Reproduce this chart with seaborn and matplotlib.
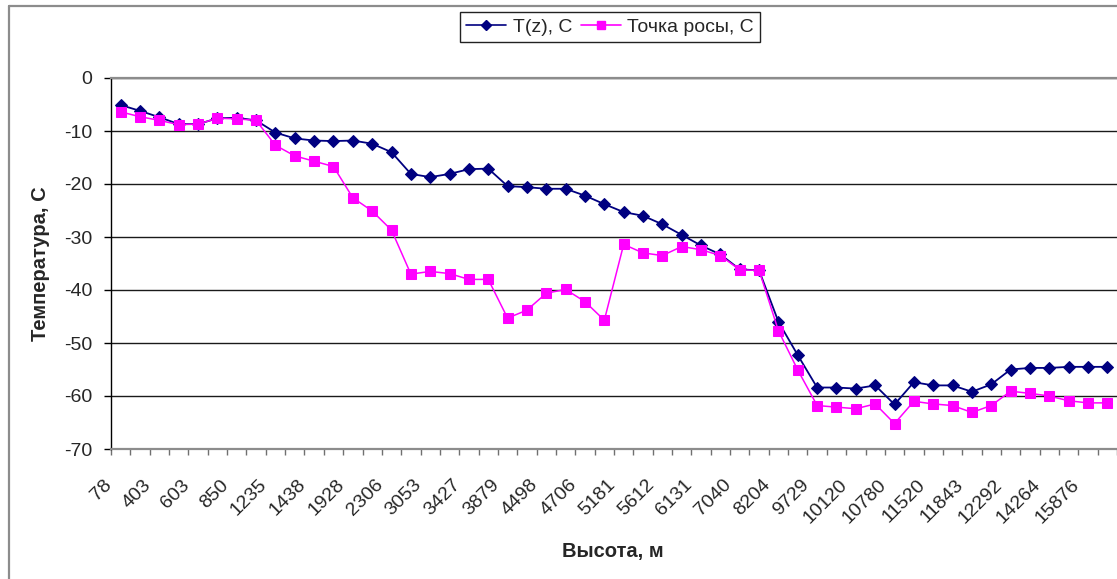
import numpy as np
import pandas as pd
import matplotlib
matplotlib.use("Agg")
import matplotlib.pyplot as plt
import matplotlib.transforms as mtransforms
from matplotlib.lines import Line2D
import seaborn as sns

# Altitude labels shown on the category axis (every second sounding level)
altitude_labels = ["78", "403", "603", "850", "1235", "1438", "1928", "2306",
                   "3053", "3427", "3879", "4498", "4706", "5181", "5612",
                   "6131", "7040", "8204", "9729", "10120", "10780", "11520",
                   "11843", "12292", "14264", "15876"]

# Air temperature T(z), C at each sounding level
temperature = [-5.1, -6.2, -7.4, -8.7, -8.7, -7.6, -7.5, -8.0, -10.3, -11.4,
               -11.8, -11.9, -11.8, -12.4, -14.0, -18.1, -18.7, -18.1, -17.2,
               -17.1, -20.4, -20.6, -20.9, -20.9, -22.2, -23.8, -25.3, -26.0,
               -27.6, -29.6, -31.6, -33.3, -36.1, -36.3, -46.0, -52.3, -58.4,
               -58.4, -58.6, -58.0, -61.6, -57.4, -58.0, -58.0, -59.2, -57.8,
               -55.0, -54.7, -54.7, -54.5, -54.5, -54.5]

# Dew point, C at each sounding level
dew_point = [-6.4, -7.3, -8.0, -8.8, -8.7, -7.6, -7.7, -8.0, -12.7, -14.7,
             -15.7, -16.7, -22.6, -25.1, -28.7, -37.0, -36.5, -36.9, -38.0,
             -38.0, -45.3, -43.8, -40.6, -39.9, -42.2, -45.7, -31.4, -33.0,
             -33.5, -31.8, -32.4, -33.5, -36.2, -36.3, -47.7, -55.1, -61.8,
             -62.1, -62.4, -61.5, -65.2, -61.0, -61.5, -61.8, -63.1, -61.8,
             -59.1, -59.5, -60.0, -60.9, -61.3, -61.3]

series_names = ["T(z), C", "Точка росы, C"]

n = len(temperature)
level = np.arange(n)
df = pd.DataFrame({
    "level": np.concatenate([level, level]),
    "value": temperature + dew_point,
    "series": [series_names[0]] * n + [series_names[1]] * n,
})

sns.set_style("white")
plt.rcParams["font.family"] = ["Liberation Sans", "DejaVu Sans"]
plt.rcParams["axes.unicode_minus"] = False

TICK_FS = 14
TITLE_FS = 14.5

W, H = 1117, 579
fig = plt.figure(figsize=(W / 100, H / 100), dpi=100)
ax = fig.add_axes([111 / W, 1 - 449 / H, 1006 / W, 371 / H])

styles = {
    series_names[0]: dict(color="#000080", marker="D", markersize=6.5, lw=1.3),
    series_names[1]: dict(color="#FF00FF", marker="s", markersize=6.5, lw=1.1),
}
for name in series_names:
    st = styles[name]
    sub = df[df["series"] == name]
    sns.lineplot(data=sub, x="level", y="value", ax=ax, color=st["color"],
                 marker=st["marker"], markersize=st["markersize"],
                 markeredgecolor=st["color"], markerfacecolor=st["color"],
                 linewidth=st["lw"], legend=False, clip_on=False, zorder=3)

ax.set_xlim(-0.5, n - 0.5)
ax.set_ylim(-70, 0)

# Horizontal gridlines
ax.set_yticks(np.arange(-70, 1, 10))
ax.yaxis.grid(True, color="#1a1a1a", lw=1.0)
ax.xaxis.grid(False)
ax.set_axisbelow(True)

# Spines
ax.spines["right"].set_visible(False)
ax.spines["top"].set_color("#8c8c8c")
ax.spines["top"].set_linewidth(1.6)
ax.spines["bottom"].set_color("#8c8c8c")
ax.spines["bottom"].set_linewidth(1.6)
ax.spines["left"].set_color("black")
ax.spines["left"].set_linewidth(1.0)

# Y ticks
ax.tick_params(axis="y", which="major", direction="out", length=5,
               width=1.0, color="black", pad=8.5, labelsize=TICK_FS, left=True)

# X ticks: labels on every second category, tick marks on category boundaries
ax.set_xticks(level[::2])
ax.set_xticklabels(altitude_labels, rotation=45, ha="right",
                   va="center", rotation_mode="anchor")
ax.set_xticks(np.arange(-0.5, n, 1), minor=True)
ax.tick_params(axis="x", which="major", length=0, pad=24, labelsize=TICK_FS)
ax.tick_params(axis="x", which="minor", direction="out", length=4,
               width=1.0, color="#707070", bottom=True)
shift = mtransforms.ScaledTranslation(-11 / 100, 0, fig.dpi_scale_trans)
for lbl in ax.get_xticklabels():
    lbl.set_transform(lbl.get_transform() + shift)

ax.set_xlabel("")
ax.set_ylabel("")
fig.text(613 / W, 1 - 551 / H, "Высота, м", ha="center", va="center",
         fontsize=TITLE_FS, fontweight="bold")
fig.text(41 / W, 1 - 264 / H, "Температура, С", ha="center", va="center",
         rotation=90, fontsize=TITLE_FS, fontweight="bold")

# Legend
handles = [Line2D([], [], color=styles[nm]["color"], marker=styles[nm]["marker"],
                  markersize=5 if nm == series_names[0] else 5.5,
                  lw=1.2) for nm in series_names]
leg = fig.legend(handles, series_names, loc="center", ncol=2,
                 bbox_to_anchor=(610 / W, 1 - 27 / H),
                 bbox_transform=fig.transFigure, fontsize=TICK_FS,
                 frameon=True, fancybox=False, edgecolor="#222222",
                 framealpha=1, handlelength=2.05, handletextpad=0.35,
                 columnspacing=0.45, borderpad=0.3, borderaxespad=0)
leg.get_frame().set_linewidth(1.0)

# Chart area border (left and top edges)
fig.add_artist(Line2D([9 / W, 9 / W], [0, 1 - 6 / H], transform=fig.transFigure,
                      color="#8c8c8c", lw=1.6))
fig.add_artist(Line2D([9 / W, 1], [1 - 6 / H, 1 - 6 / H], transform=fig.transFigure,
                      color="#8c8c8c", lw=1.6))

fig.savefig("out.png", dpi=100)
